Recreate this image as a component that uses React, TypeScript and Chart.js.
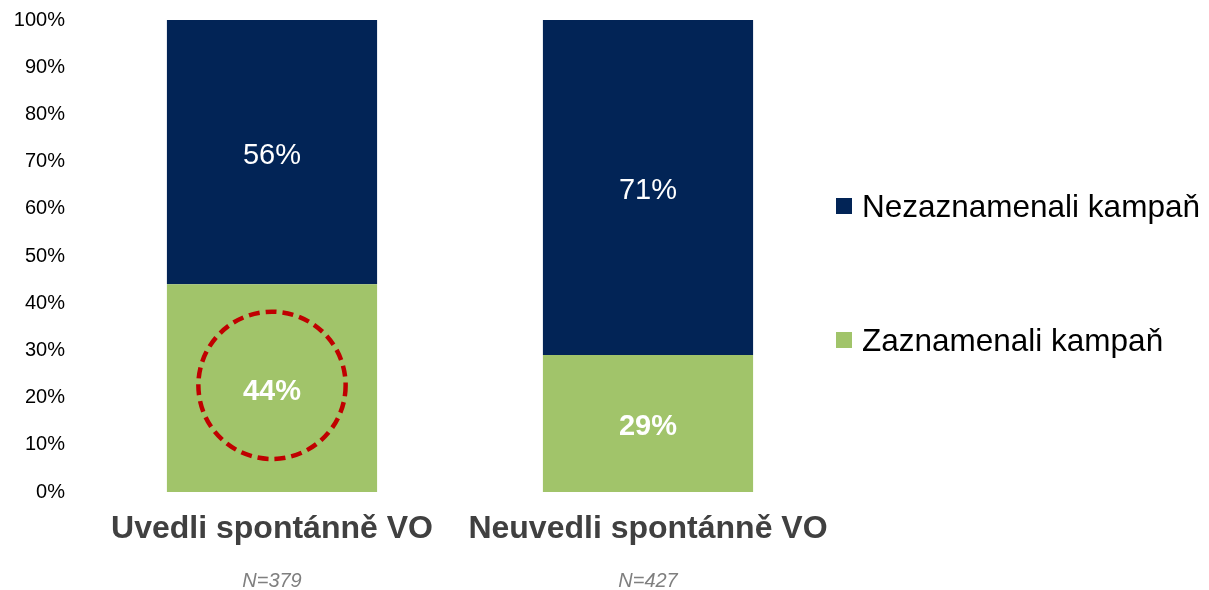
import React, { useEffect, useRef } from 'react';
import { Chart, registerables } from 'chart.js';

Chart.register(...registerables);

// ---- Data ----
const categories = ['Uvedli spontánně VO', 'Neuvedli spontánně VO'];
const sampleSizes = ['N=379', 'N=427'];
const seriesNames = ['Zaznamenali kampaň', 'Nezaznamenali kampaň'];
const zaznamenali = [44, 29];
const nezaznamenali = [56, 71];
const yTickValues = [0, 10, 20, 30, 40, 50, 60, 70, 80, 90, 100];
const highlightCategory = 0;
const highlightCenterValue = 22.6;
const highlightRadiusValue = 15.6;

// ---- Styles ----
const FONT = '"Liberation Sans", Arial, Helvetica, sans-serif';
const NAVY = '#022456';
const GREEN = '#A1C46A';
const RED = '#C00000';

const overlayPlugin = {
  id: 'overlay',
  afterDatasetsDraw(chart: any) {
    const ctx = chart.ctx;
    const xs = chart.scales.x;
    const ys = chart.scales.y;
    ctx.save();
    // data labels
    chart.data.datasets.forEach((ds: any, di: number) => {
      const meta = chart.getDatasetMeta(di);
      meta.data.forEach((bar: any, i: number) => {
        const v = ds.data[i];
        const cy = (bar.y + bar.base) / 2;
        const size = 29;
        ctx.font = (di === 0 ? 'bold ' : '') + size + 'px ' + FONT;
        ctx.fillStyle = '#FFFFFF';
        ctx.textAlign = 'center';
        ctx.textBaseline = 'alphabetic';
        ctx.fillText(v + '%', bar.x, cy + size * 0.358 + 1);
      });
    });
    // dashed highlight circle
    const cx = xs.getPixelForValue(highlightCategory);
    const cy = ys.getPixelForValue(highlightCenterValue);
    const r = Math.abs(ys.getPixelForValue(0) - ys.getPixelForValue(highlightRadiusValue));
    ctx.beginPath();
    ctx.setLineDash([11, 6]);
    ctx.lineWidth = 4.5;
    ctx.strokeStyle = RED;
    ctx.arc(cx, cy, r, 0, Math.PI * 2);
    ctx.stroke();
    ctx.setLineDash([]);

    // sample sizes under category labels
    ctx.font = 'italic 20px ' + FONT;
    ctx.fillStyle = '#7F7F7F';
    ctx.textAlign = 'center';
    ctx.textBaseline = 'alphabetic';
    sampleSizes.forEach((s, i) => {
      ctx.fillText(s, xs.getPixelForValue(i), 587);
    });

    // custom legend
    const items = [
      { label: seriesNames[1], color: NAVY, y: 206 },
      { label: seriesNames[0], color: GREEN, y: 340 },
    ];
    ctx.font = '31.5px ' + FONT;
    ctx.textAlign = 'left';
    items.forEach((it) => {
      ctx.fillStyle = it.color;
      ctx.fillRect(836, it.y - 8, 16, 16);
      ctx.fillStyle = '#000000';
      ctx.fillText(it.label, 862, it.y + 31.5 * 0.358);
    });
    ctx.restore();
  },
};

export default function App() {
  const ref = useRef<HTMLCanvasElement>(null);
  useEffect(() => {
    if (!ref.current) return;
    const chart = new Chart(ref.current, {
      type: 'bar',
      data: {
        labels: categories,
        datasets: [
          {
            label: seriesNames[0],
            data: zaznamenali,
            backgroundColor: GREEN,
            categoryPercentage: 1,
            barPercentage: 0.559,
          },
          {
            label: seriesNames[1],
            data: nezaznamenali,
            backgroundColor: NAVY,
            categoryPercentage: 1,
            barPercentage: 0.559,
          },
        ],
      },
      options: {
        animation: false,
        responsive: true,
        maintainAspectRatio: false,
        layout: { padding: { top: 20, right: 373, bottom: 43, left: 0 } },
        plugins: {
          legend: { display: false },
          tooltip: { enabled: false },
        },
        scales: {
          x: {
            stacked: true,
            grid: { display: false, drawTicks: false },
            border: { display: false },
            afterFit: (scale: any) => {
              scale.height = 55;
              scale.paddingLeft = 0;
              scale.paddingRight = 0;
            },
            ticks: {
              color: '#404040',
              font: { family: FONT, size: 32, weight: 'bold' },
              padding: 18,
              maxRotation: 0,
              autoSkip: false,
            },
          },
          y: {
            stacked: true,
            min: 0,
            max: 100,
            grid: { display: false, drawTicks: false },
            border: { display: false },
            afterFit: (scale: any) => {
              scale.width = 84;
              scale.paddingTop = 0;
              scale.paddingBottom = 0;
            },
            afterBuildTicks: (scale: any) => {
              scale.ticks = yTickValues.map((v) => ({ value: v }));
            },
            ticks: {
              color: '#000000',
              font: { family: FONT, size: 20 },
              padding: 19,
              callback: (v: any) => v + '%',
            },
          },
        },
      },
      plugins: [overlayPlugin],
    });
    return () => chart.destroy();
  }, []);
  return (
    <div style={{ position: 'absolute', left: 0, top: 0, width: 1209, height: 590 }}>
      <canvas ref={ref} />
    </div>
  );
}
